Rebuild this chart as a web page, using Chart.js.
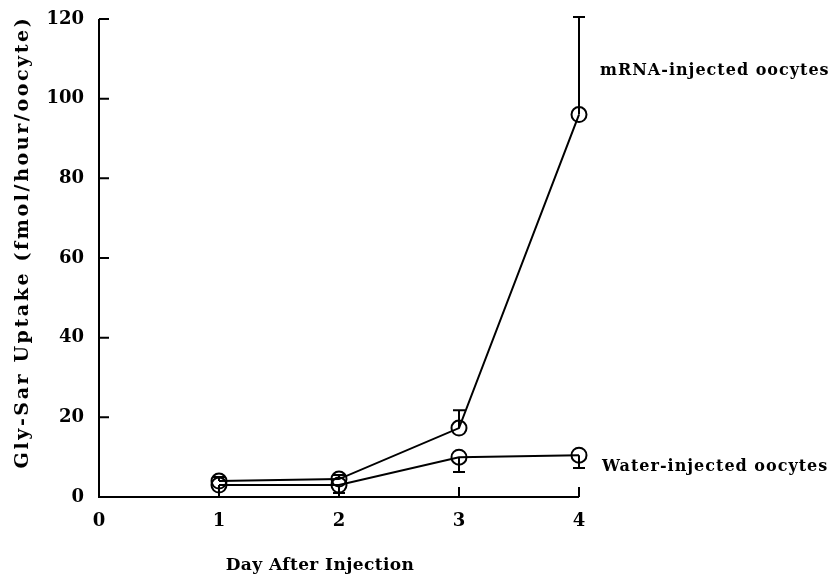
<!DOCTYPE html>
<html>
<head>
<meta charset="utf-8">
<script src="https://cdn.jsdelivr.net/npm/chart.js@4.4.1/dist/chart.umd.min.js"></script>
<style>
  html, body { margin: 0; padding: 0; background: #fff; }
  #wrap { width: 833px; height: 575px; position: relative; }
</style>
</head>
<body>
<div id="wrap"><canvas id="c" width="833" height="575"></canvas></div>
<script>
// Days after injection
const days = [1, 2, 3, 4];
// Gly-Sar uptake (fmol/hour/oocyte), mean values
const mrnaUptake = [4, 4.5, 17.3, 96];
const waterUptake = [3, 3, 10, 10.5];
// Error bar half-lengths (mRNA drawn upward, water drawn downward)
const mrnaError = [1, 1, 4.5, 24.5];
const waterError = [3, 2, 3.7, 3.2];
// Axis ticks
const xTicks = [0, 1, 2, 3, 4];
const yTicks = [0, 20, 40, 60, 80, 100, 120];
// Axis titles
const xTitle = 'Day After Injection';
const yTitle = 'Gly-Sar Uptake (fmol/hour/oocyte)';
// Series names drawn beside the curves, with their anchor values
const seriesNames = ['mRNA-injected oocytes', 'Water-injected oocytes'];
const nameAnchors = [107, 7.5];

const FONT = '"DejaVu Serif", "Liberation Serif", serif';

const errorBars = {
  id: 'errorBars',
  afterDatasetsDraw(chart) {
    const { ctx, scales: { x, y } } = chart;
    ctx.save();
    ctx.strokeStyle = '#000';
    ctx.lineWidth = 2;
    const cap = 6;
    const draw = (vals, errs, dir) => {
      vals.forEach((v, i) => {
        const px = x.getPixelForValue(days[i]);
        const p0 = y.getPixelForValue(v);
        const p1 = y.getPixelForValue(v + dir * errs[i]);
        ctx.beginPath();
        ctx.moveTo(px, p0);
        ctx.lineTo(px, p1);
        ctx.moveTo(px - cap, p1);
        ctx.lineTo(px + cap, p1);
        ctx.stroke();
      });
    };
    draw(mrnaUptake, mrnaError, 1);
    draw(waterUptake, waterError, -1);
    ctx.restore();
  }
};

const axesFrame = {
  id: 'axesFrame',
  afterDraw(chart) {
    const { ctx, chartArea: a, scales: { x, y } } = chart;
    ctx.save();
    ctx.strokeStyle = '#000';
    ctx.lineWidth = 2;
    ctx.beginPath();
    ctx.moveTo(a.left, a.top);
    ctx.lineTo(a.left, a.bottom);
    ctx.lineTo(a.right, a.bottom);
    // inward ticks
    yTicks.slice(1).forEach(v => {
      const py = y.getPixelForValue(v);
      ctx.moveTo(a.left, py);
      ctx.lineTo(a.left + 10, py);
    });
    xTicks.slice(1).forEach(v => {
      const px = x.getPixelForValue(v);
      ctx.moveTo(px, a.bottom);
      ctx.lineTo(px, a.bottom - 10);
    });
    ctx.stroke();

    ctx.fillStyle = '#000';
    ctx.textBaseline = 'middle';

    // axis titles
    ctx.font = 'bold 17px ' + FONT;
    ctx.letterSpacing = '0.4px';
    ctx.textAlign = 'center';
    ctx.fillText(xTitle, 320, 566);

    ctx.save();
    ctx.translate(23, 242);
    ctx.rotate(-Math.PI / 2);
    ctx.font = 'bold 19px ' + FONT;
    ctx.letterSpacing = '2.6px';
    ctx.fillText(yTitle, 0, 0);
    ctx.restore();

    // series names
    ctx.font = 'bold 16px ' + FONT;
    ctx.letterSpacing = '1px';
    ctx.textAlign = 'left';
    const xr = x.getPixelForValue(4);
    ctx.fillText(seriesNames[0], xr + 21, y.getPixelForValue(nameAnchors[0]));
    ctx.fillText(seriesNames[1], xr + 23, y.getPixelForValue(nameAnchors[1]));
    ctx.restore();
  }
};

const lineStyle = {
  borderColor: '#000',
  borderWidth: 2,
  backgroundColor: '#fff',
  pointRadius: 7.5,
  pointBorderWidth: 2,
  pointBackgroundColor: 'rgba(255,255,255,0)',
  pointBorderColor: '#000',
  tension: 0,
  fill: false,
  clip: false
};

new Chart(document.getElementById('c'), {
  type: 'line',
  data: {
    datasets: [
      Object.assign({ label: seriesNames[0], data: days.map((d, i) => ({ x: d, y: mrnaUptake[i] })) }, lineStyle),
      Object.assign({ label: seriesNames[1], data: days.map((d, i) => ({ x: d, y: waterUptake[i] })) }, lineStyle)
    ]
  },
  options: {
    responsive: false,
    animation: false,
    devicePixelRatio: 1,
    layout: { padding: { left: 0, right: 254, top: 19, bottom: 0 } },
    plugins: { legend: { display: false }, tooltip: { enabled: false } },
    scales: {
      x: {
        type: 'linear',
        min: 0, max: 4,
        afterBuildTicks(s) { s.ticks = xTicks.map(v => ({ value: v })); },
        afterFit(s) { s.height = 78; s.paddingLeft = 0; s.paddingRight = 0; },
        border: { display: false },
        grid: { display: false, drawTicks: false },
        ticks: { color: '#000', padding: 14, font: { family: FONT, weight: 'bold', size: 18 } }
      },
      y: {
        min: 0, max: 120,
        afterBuildTicks(s) { s.ticks = yTicks.map(v => ({ value: v })); },
        afterFit(s) { s.width = 99; s.paddingTop = 0; s.paddingBottom = 0; },
        border: { display: false },
        grid: { display: false, drawTicks: false },
        ticks: { color: '#000', padding: 15, font: { family: FONT, weight: 'bold', size: 18 } }
      }
    }
  },
  plugins: [errorBars, axesFrame]
});
</script>
</body>
</html>
